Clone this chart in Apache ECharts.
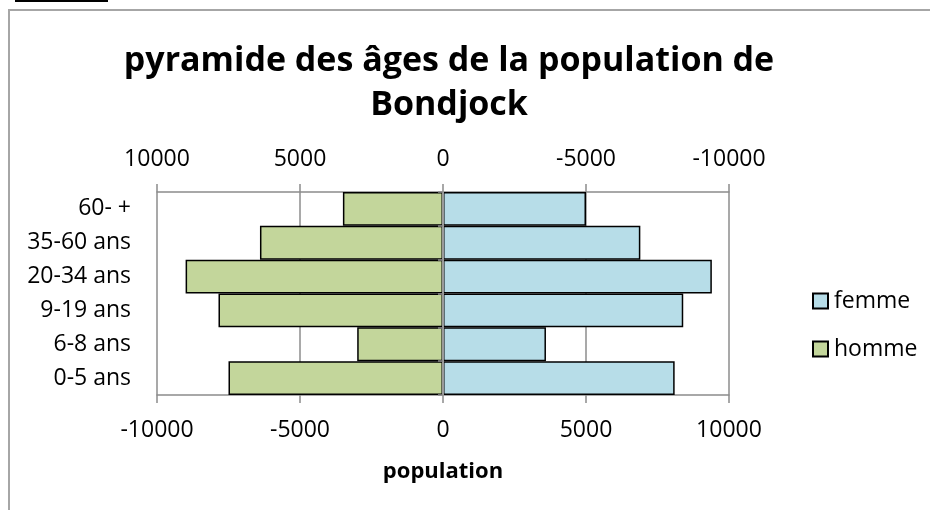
<!DOCTYPE html>
<html>
<head>
<meta charset="utf-8">
<script src="https://cdn.jsdelivr.net/npm/echarts@6/dist/echarts.min.js"></script>
<style>
  html, body { margin: 0; padding: 0; background: #fff; }
  #container { width: 930px; height: 510px; }
</style>
</head>
<body>
<div id="container"></div>
<script>
// age groups, bottom to top
const ageGroups = ["0-5 ans", "6-8 ans", "9-19 ans", "20-34 ans", "35-60 ans", "60- +"];
// men drawn to the left (negative values)
const homme = [-7500, -3000, -7850, -9000, -6400, -3500];
const femme = [8100, 3600, 8400, 9400, 6900, 5000];
const axisMin = -10000;
const axisMax = 10000;
const axisStep = 5000;

const font = "'Open Sans', 'Noto Sans', sans-serif";
const gridGray = "#8c8c8c";
const plain = (v) => String(v);

const dom = document.getElementById("container");
const myChart = echarts.init(dom, null, { renderer: "canvas" });

const option = {
  animation: false,
  textStyle: { fontFamily: font, color: "#000" },
  title: {
    text: "pyramide des âges de la population de\nBondjock",
    left: 444,
    textAlign: "center",
    top: 34,
    textStyle: {
      fontFamily: font,
      fontSize: 34,
      fontWeight: "bold",
      lineHeight: 44,
      color: "#000",
    },
  },
  graphic: [
    {
      type: "rect",
      shape: { x: 9, y: 10, width: 1000, height: 600 },
      style: { fill: "none", stroke: "#a6a6a6", lineWidth: 2 },
      silent: true,
    },
    {
      type: "rect",
      shape: { x: 15, y: 0, width: 93, height: 2 },
      style: { fill: "#000" },
      silent: true,
    },
  ],
  legend: {
    orient: "vertical",
    left: 807,
    top: 283,
    itemWidth: 15,
    itemHeight: 15,
    itemGap: 22,
    icon: "rect",
    data: ["femme", "homme"],
    textStyle: { fontFamily: font, fontSize: 23, color: "#000", lineHeight: 26, padding: [0, 0, 0, 1] },
  },
  grid: { left: 157, right: 201, top: 192, bottom: 115 },
  xAxis: [
    {
      type: "value",
      position: "bottom",
      min: axisMin,
      max: axisMax,
      interval: axisStep,
      name: "population",
      nameLocation: "center",
      nameGap: 66,
      nameTextStyle: { fontFamily: font, fontSize: 22, fontWeight: "bold", color: "#000" },
      axisLine: { show: true, lineStyle: { color: gridGray, width: 1.5 } },
      axisTick: { show: true, length: 8, lineStyle: { color: gridGray, width: 1.5 } },
      axisLabel: { fontFamily: font, fontSize: 23, color: "#000", margin: 24, formatter: plain },
      splitLine: { show: true, lineStyle: { color: gridGray, width: 1.5 } },
    },
    {
      type: "value",
      position: "top",
      inverse: true,
      min: axisMin,
      max: axisMax,
      interval: axisStep,
      axisLine: { show: true, onZero: false, lineStyle: { color: gridGray, width: 1.5 } },
      axisTick: { show: true, length: 8, lineStyle: { color: gridGray, width: 1.5 } },
      axisLabel: { fontFamily: font, fontSize: 23, color: "#000", margin: 21, formatter: plain },
      splitLine: { show: false },
    },
  ],
  yAxis: [
    {
      type: "category",
      data: ageGroups,
      position: "left",
      axisLine: { show: false },
      axisTick: { show: false },
      axisLabel: { fontFamily: font, fontSize: 23, color: "#000", margin: 26 },
    },
    {
      type: "category",
      data: ageGroups,
      position: "left",
      z: 5,
      axisLine: { show: true, onZero: true, onZeroAxisIndex: 0, lineStyle: { color: "#9a9a9a", width: 2 } },
      axisTick: { show: true, length: 5, lineStyle: { color: gridGray, width: 1.5 } },
      axisLabel: { show: false },
    },
  ],
  series: [
    {
      name: "homme",
      type: "bar",
      data: homme,
      barGap: "-100%",
      barCategoryGap: "0%",
      itemStyle: { color: "#c3d69b", borderColor: "#000", borderWidth: 1.5 },
    },
    {
      name: "femme",
      type: "bar",
      data: femme,
      barGap: "-100%",
      barCategoryGap: "0%",
      itemStyle: { color: "#b7dde8", borderColor: "#000", borderWidth: 1.5 },
    },
  ],
};

myChart.setOption(option);
window.addEventListener("resize", myChart.resize);
</script>
</body>
</html>
